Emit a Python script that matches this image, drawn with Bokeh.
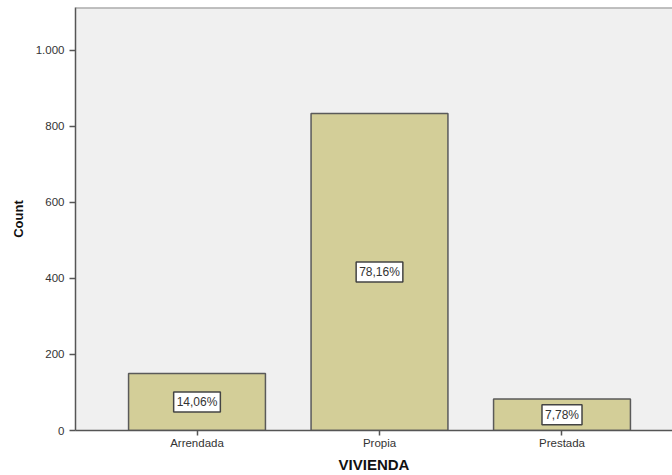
from bokeh.plotting import figure
from bokeh.models import ColumnDataSource, Range1d, FixedTicker, Label, Span
from bokeh.embed import file_html
from bokeh.resources import INLINE

# Household tenure counts
categories = ["Arrendada", "Propia", "Prestada"]
counts = [150, 834, 83]
y_ticks = [0, 200, 400, 600, 800, 1000]
y_tick_labels = ["0", "200", "400", "600", "800", "1.000"]

total = sum(counts)
positions = list(range(1, len(categories) + 1))
pct_labels = [f"{c / total * 100:.2f}".replace(".", ",") + "%" for c in counts]

FONT = "Liberation Sans"
AXIS_COLOR = "#555555"
TEXT_COLOR = "#333333"

source = ColumnDataSource(dict(x=positions, top=counts, cat=categories))

p = figure(
    width=672, height=475,
    x_range=Range1d(0.3342, 3.6055),
    y_range=Range1d(0, 1113),
    toolbar_location=None,
    output_backend="svg",
    min_border_left=75, min_border_right=0,
    min_border_top=7, min_border_bottom=45,
)

p.background_fill_color = "#F0F0F0"
p.border_fill_color = "white"
p.outline_line_color = None
p.xgrid.grid_line_color = None
p.ygrid.grid_line_color = None

p.vbar(x="x", top="top", width=0.75, source=source,
       fill_color="#D3CE98", line_color="#5A5A5A", line_width=1.5)

# percentage boxes in the middle of each bar
for xv, c, txt in zip(positions, counts, pct_labels):
    p.add_layout(Label(
        x=xv, y=c / 2, text=txt,
        text_align="center", text_baseline="middle",
        text_font=FONT, text_font_size="12px", text_color=TEXT_COLOR,
        background_fill_color="white",
        border_line_color="#444444", border_line_width=1.5,
        padding=3,
    ))

# top edge of the plotting area
p.add_layout(Span(location=1113, dimension="width",
                  line_color="#8A8A8A", line_width=2))

# y axis
p.yaxis.ticker = FixedTicker(ticks=y_ticks)
p.yaxis.major_label_overrides = {t: l for t, l in zip(y_ticks, y_tick_labels)}
p.yaxis.minor_tick_line_color = None
p.yaxis.major_tick_in = 0
p.yaxis.major_tick_out = 6
p.yaxis.axis_label = "Count"
p.yaxis.axis_label_text_font = FONT
p.yaxis.axis_label_text_font_style = "bold"
p.yaxis.axis_label_text_font_size = "13px"
p.yaxis.axis_label_text_color = "#111111"
p.yaxis.axis_label_standoff = 7

# x axis
p.xaxis.ticker = FixedTicker(ticks=positions)
p.xaxis.major_label_overrides = {x: c for x, c in zip(positions, categories)}
p.xaxis.minor_tick_line_color = None
p.xaxis.major_tick_in = 0
p.xaxis.major_tick_out = 5
p.xaxis.major_label_standoff = 1
p.xaxis.axis_label = "VIVIENDA"
p.xaxis.axis_label_text_font = FONT
p.xaxis.axis_label_text_font_style = "bold"
p.xaxis.axis_label_text_font_size = "15px"
p.xaxis.axis_label_text_color = "#111111"
p.xaxis.axis_label_standoff = 4

for ax in (p.xaxis, p.yaxis):
    ax.axis_line_color = AXIS_COLOR
    ax.axis_line_width = 1.5
    ax.major_tick_line_color = AXIS_COLOR
    ax.major_tick_line_width = 1.5
    ax.major_label_text_font = FONT
    ax.major_label_text_font_size = "11.5px"
    ax.major_label_text_color = TEXT_COLOR

open("out.html", "w").write(file_html(p, INLINE))
